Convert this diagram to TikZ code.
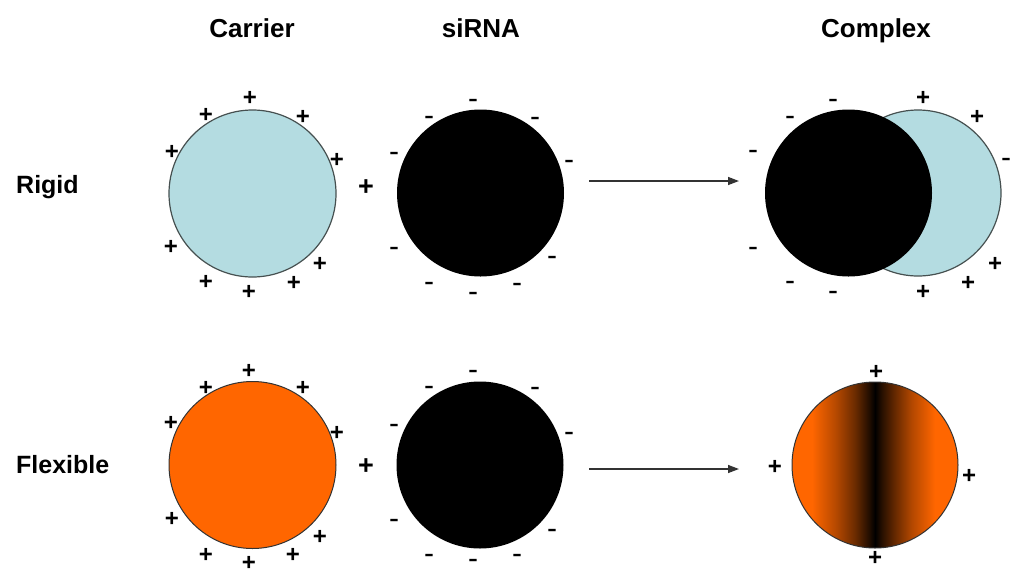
\documentclass[tikz,border=0pt]{standalone}
\usepackage{fontspec}
\setmainfont{Liberation Sans}
\usetikzlibrary{arrows.meta,calc}
\definecolor{rigidblue}{RGB}{180,220,225}
\definecolor{flexorange}{RGB}{255,102,0}
\definecolor{edgegray}{RGB}{70,80,80}
\pgfdeclarehorizontalshading{flexshade}{100bp}{color(0bp)=(flexorange); color(25bp)=(flexorange); color(31bp)=(flexorange); color(38bp)=(flexorange!72!black); color(44bp)=(flexorange!42!black); color(48bp)=(flexorange!15!black); color(50bp)=(black); color(52bp)=(flexorange!15!black); color(56bp)=(flexorange!40!black); color(61bp)=(flexorange!70!black); color(68bp)=(flexorange); color(75bp)=(flexorange); color(100bp)=(flexorange)}
\tikzset{
  header/.style={font=\fontsize{26}{30}\selectfont\bfseries, inner sep=0pt, anchor=base},
  rowlabel/.style={font=\fontsize{25}{30}\selectfont\bfseries, inner sep=0pt, anchor=base west},
  possign/.style={font=\fontsize{24}{24}\selectfont\bfseries, inner sep=0pt, anchor=base, yshift=-8.2pt},
  negsign/.style={font=\fontsize{30}{30}\selectfont, inner sep=0pt, anchor=base, yshift=-8.4pt},
  joinsign/.style={font=\fontsize{27}{27}\selectfont\bfseries, inner sep=0pt, anchor=base, yshift=-9.2pt},
  carrierrigid/.style={circle, minimum size=167pt, inner sep=0pt, fill=rigidblue, draw=edgegray, line width=1.2pt},
  carrierflex/.style={circle, minimum size=167pt, inner sep=0pt, fill=flexorange, draw=black!80, line width=1pt},
  sirna/.style={circle, minimum size=167pt, inner sep=0pt, fill=black},
  reacts/.style={-{Triangle[length=11pt,width=8pt]}, line width=1.4pt, draw=black!80},
}
\begin{document}
\begin{tikzpicture}[x=1pt,y=-1pt]
\useasboundingbox (0,0) rectangle (1010,574);
\fill[white] (0,0) rectangle (1010,574);

% headers
\node[header] (hcarrier) at (252,37) {Carrier};
\node[header] (hsirna) at (481,37) {siRNA};
\node[header] (hcomplex) at (876,37) {Complex};

% row labels
\node[rowlabel] (lrigid) at (16,193) {Rigid};
\node[rowlabel] (lflex) at (16,473) {Flexible};

% ---------- Rigid row ----------
\node[carrierrigid] (c1) at (252.5,193.5) {};
\foreach \dx/\dy in {-2.5/-96.5, -46.5/-79.5, 50.5/-77.5, -80.5/-42.5, 84.5/-34.5, -81.5/52.5, 67.5/69.5, -46.5/87.5, 41.5/88.5, -3.5/97.5}
  \node[possign] at ($(c1.center)+(\dx,\dy)$) {+};
\node[joinsign] (j1) at (366,186) {+};
\node[sirna] (s1) at (480.5,193) {};
\foreach \dx/\dy in {-7.5/-93, -51.5/-76, 54.5/-75, -86.5/-40, 88.5/-32, -86.5/55, 71.5/64, -51.5/90, 36.5/91, -7.5/100}
  \node[negsign] at ($(s1.center)+(\dx,\dy)$) {-};
\coordinate (a1s) at (589,181);
\coordinate (a1e) at (739,181);
\draw[reacts] (a1s) -- (a1e);
% complex rigid
\node[carrierrigid, minimum size=166pt] (x1c) at (918,193) {};
\node[sirna] (x1s) at (848.5,193) {};
\foreach \x/\y in {833/100, 790/117, 753/151, 1006/159, 753/248, 790/282, 833/292}
  \node[negsign] at (\x,\y) {-};
\foreach \x/\y in {923/97, 977/116, 995/263, 968/282, 923/291}
  \node[possign] at (\x,\y) {+};

% ---------- Flexible row ----------
\node[carrierflex] (c2) at (252.5,465) {};
\foreach \dx/\dy in {-3.5/-95, -46.5/-78, 50.5/-78, -81.5/-43, 84.5/-33, -80.5/53, 67.5/71, -46.5/89, 40.5/89, -3.5/97}
  \node[possign] at ($(c2.center)+(\dx,\dy)$) {+};
\node[joinsign] (j2) at (366,465) {+};
\node[sirna] (s2) at (480,465) {};
\foreach \dx/\dy in {-7/-94, -51/-78, 55/-77, -86/-40, 89/-32, -86/55, 72/65, -51/90, 37/90, -7/95}
  \node[negsign] at ($(s2.center)+(\dx,\dy)$) {-};
\coordinate (a2s) at (589,469);
\coordinate (a2e) at (739,469);
\draw[reacts] (a2s) -- (a2e);
% complex flexible
\node[circle, minimum size=166pt, inner sep=0pt, shading=flexshade, draw=black!80, line width=1pt] (x2) at (875,465) {};
\foreach \x/\y in {876/371, 775/466, 969/475, 875/557}
  \node[possign] at (\x,\y) {+};
\end{tikzpicture}
\end{document}
